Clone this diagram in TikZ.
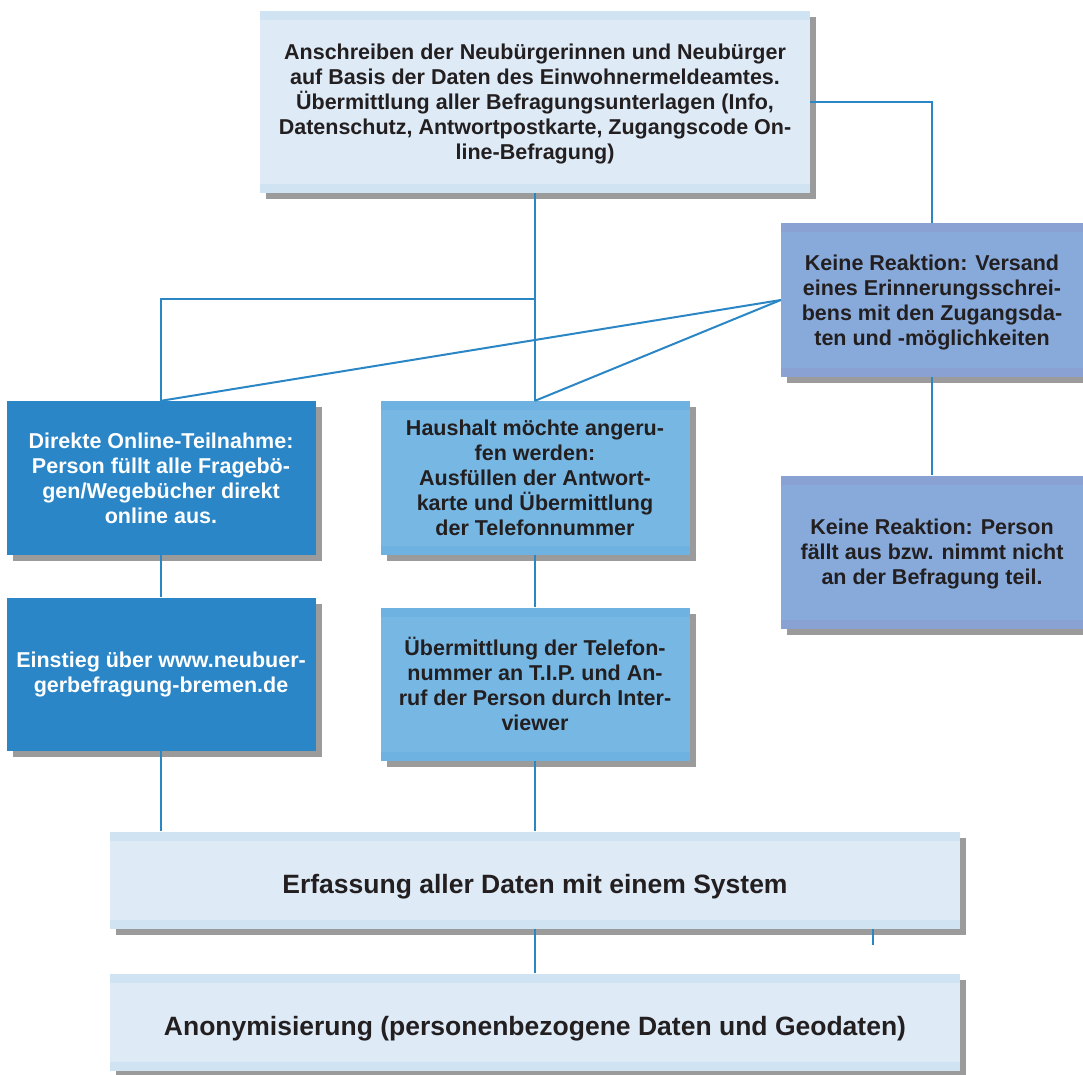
\documentclass[tikz,border=0pt]{standalone}
\usepackage{fontspec}
\setmainfont{Liberation Sans}
\usepackage{tikz}
\usetikzlibrary{shadows}

\definecolor{hellblau}{HTML}{DEEBF7}
\definecolor{hellband}{HTML}{CFE3F3}
\definecolor{dunkelblau}{HTML}{2A86C6}
\definecolor{mittelblau}{HTML}{76B7E4}
\definecolor{mittelband}{HTML}{6EB2E2}
\definecolor{graublau}{HTML}{87AADB}
\definecolor{graublauband}{HTML}{8AA1D3}
\definecolor{schatten}{HTML}{9B9B9B}
\definecolor{linie}{HTML}{2A86C4}
\definecolor{schrift}{HTML}{231F20}

\tikzset{
    kasten/.style={rectangle, inner sep=0pt, align=center, text=schrift,
        font=\bfseries\fontsize{21.5}{25}\selectfont,
        drop shadow={shadow xshift=6pt, shadow yshift=-6pt, fill=schatten, opacity=1}},
    band/.style={path picture={
        \fill[#1] (path picture bounding box.north west) rectangle ([yshift=-9pt]path picture bounding box.north east);
        \fill[#1] (path picture bounding box.south west) rectangle ([yshift=9pt]path picture bounding box.south east);}},
    hellkasten/.style={kasten, fill=hellblau, band=hellband},
    dunkelkasten/.style={kasten, fill=dunkelblau, text=white},
    mittelkasten/.style={kasten, fill=mittelblau, band=mittelband},
    graukasten/.style={kasten, fill=graublau, band=graublauband},
    breitkasten/.style={hellkasten, minimum width=850pt, minimum height=97pt,
        font=\bfseries\fontsize{26.5}{30}\selectfont, text height=27pt, text depth=0pt},
    verbinder/.style={draw=linie, line width=2pt},
}

\begin{document}
\begin{tikzpicture}[x=1pt, y=-1pt]
    \useasboundingbox (0,0) rectangle (1083,1074);

    % 上方: 发信
    \node[hellkasten, minimum width=550pt, minimum height=182pt, text depth=-5pt] (anschreiben) at (535,102)
        {Anschreiben der Neubürgerinnen und Neubürger\\auf Basis der Daten des Einwohnermeldeamtes.\\Übermittlung aller Befragungsunterlagen (Info,\\Datenschutz, Antwortpostkarte, Zugangscode On-\\line-Befragung)};

    % 右侧: 无反应
    \node[graukasten, minimum width=302pt, minimum height=154pt, text depth=-7pt] (erinnerung) at (932,300)
        {Keine Reaktion: Versand\\eines Erinnerungsschrei-\\bens mit den Zugangsda-\\ten und -möglichkeiten};
    \node[graukasten, minimum width=302pt, minimum height=153pt, text depth=-3pt] (ausfall) at (932,552)
        {Keine Reaktion: Person\\fällt aus bzw. nimmt nicht\\an der Befragung teil.};

    % 左列: 在线参与
    \node[dunkelkasten, minimum width=309pt, minimum height=154pt] (online) at (161,478)
        {Direkte Online-Teilnahme:\\Person füllt alle Fragebö-\\gen/Wegebücher direkt\\online aus.};
    \node[dunkelkasten, minimum width=309pt, minimum height=153pt] (einstieg) at (161,674)
        {Einstieg über www.neubuer-\\gerbefragung-bremen.de};

    % 中列: 电话
    \node[mittelkasten, minimum width=309pt, minimum height=154pt, text depth=-4pt] (rueckruf) at (535,478)
        {Haushalt möchte angeru-\\fen werden:\\Ausfüllen der Antwort-\\karte und Übermittlung\\der Telefonnummer};
    \node[mittelkasten, minimum width=309pt, minimum height=153pt] (telefon) at (535,684)
        {Übermittlung der Telefon-\\nummer an T.I.P. und An-\\ruf der Person durch Inter-\\viewer};

    % 下方: 数据
    \node[breitkasten] (erfassung) at (535,880)
        {Erfassung aller Daten mit einem System};
    \node[breitkasten] (anonym) at (535,1022)
        {Anonymisierung (personenbezogene Daten und Geodaten)};

    % 连线
    \coordinate (teilung) at (535,299);
    \coordinate (stummel) at (873,945);
    \draw[verbinder] (anschreiben.south) -- (teilung) -- (teilung -| online.north) -- (online.north);
    \draw[verbinder] (teilung) -- (rueckruf.north);
    \draw[verbinder] (anschreiben.east) -| (erinnerung.north);
    \draw[verbinder] (erinnerung.west) -- (online.north);
    \draw[verbinder] (erinnerung.west) -- (rueckruf.north);
    \draw[verbinder] (erinnerung.south) -- (ausfall.north);
    \draw[verbinder] (online.south) -- (einstieg.north);
    \draw[verbinder] (rueckruf.south) -- (telefon.north);
    \draw[verbinder] (einstieg.south) -- (einstieg.south |- erfassung.north);
    \draw[verbinder] (telefon.south) -- (telefon.south |- erfassung.north);
    \draw[verbinder] (erfassung.south) -- (anonym.north);
    \draw[verbinder] (erfassung.south -| stummel) -- (stummel);
\end{tikzpicture}
\end{document}
